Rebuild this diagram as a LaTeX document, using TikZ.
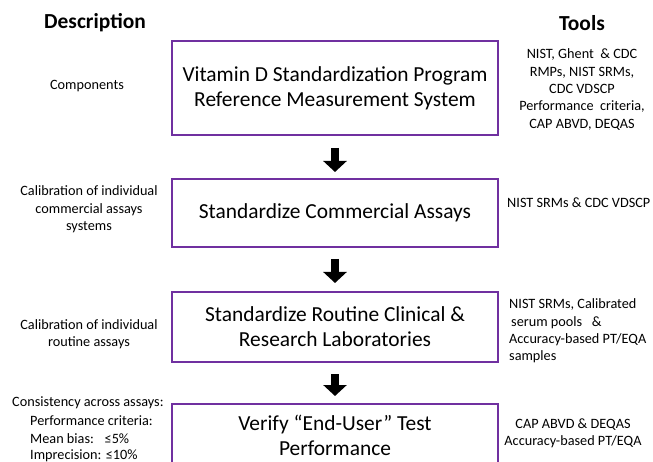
\documentclass[tikz,border=0pt]{standalone}
\usepackage{fontspec}
\setmainfont{Carlito}
\usetikzlibrary{arrows.meta}
\definecolor{boxpurple}{HTML}{7030A0}
\begin{document}
\begin{tikzpicture}[x=1bp,y=-1bp,
  stage/.style={draw=boxpurple, line width=2bp, minimum width=326bp, align=center,
    font=\fontsize{21.5}{25}\selectfont, inner sep=0pt},
  side/.style={font=\fontsize{14.3}{17.5}\selectfont, inner sep=0pt},
  head/.style={font=\fontsize{21.5}{25}\selectfont\bfseries, inner sep=0pt},
  flow/.style={line width=8bp, -{Triangle[width=23bp,length=11bp]}}]
\clip (0,0) rectangle (653,462);
\fill[white] (0,0) rectangle (653,462);

% headers
\node[head] (hdesc) at (95,23) {Description};
\node[head] (htools) at (582,23) {Tools};

% stages
\node[stage, minimum height=94bp] (b1) at (335,88) {Vitamin D Standardization Program\\Reference Measurement System};
\node[stage, minimum height=68bp] (b2) at (335,213) {Standardize Commercial Assays};
\node[stage, minimum height=70bp] (b3) at (335,327) {Standardize Routine Clinical \&\\Research Laboratories};
\node[stage, minimum height=70bp] (b4) at (335,439) {};
\node[font=\fontsize{21.5}{25}\selectfont, align=center, inner sep=0pt] (b4t) at (335,435) {Verify “End-User” Test\\Performance};

% arrows
\draw[flow] ([yshift=-12bp]b1.south) -- ([yshift=6bp]b2.north);
\draw[flow] ([yshift=-11bp]b2.south) -- ([yshift=8bp]b3.north);
\draw[flow] ([yshift=-11bp]b3.south) -- ([yshift=7bp]b4.north);

% descriptions
\node[side] (d1) at (87,86) {Components};
\node[side, align=center] (d2) at (89,209.5) {Calibration of individual\\commercial assays\\systems};
\node[side, align=center] (d3) at (89,334) {Calibration of individual\\routine assays};
\node[side, anchor=base west] (d4a) at (12,406) {Consistency across assays:};
\node[side, anchor=base west] (d4b) at (30,425) {Performance criteria:};
\node[side, anchor=base west] (d4c) at (30,443) {\rlap{Mean bias:}\phantom{Imprecision:}\ ≤5\%};
\node[side, anchor=base west] (d4d) at (30,459) {Imprecision: ≤10\%};

% tools
\node[side, align=center] (t1) at (582,89.5) {NIST, Ghent \ \& CDC\\RMPs, NIST SRMs,\\CDC VDSCP\\Performance \ criteria,\\CAP ABVD, DEQAS};
\node[side, anchor=west] (t2) at (507,203) {NIST SRMs \& CDC VDSCP};
\node[side, align=left, anchor=west] (t3) at (509,331) {NIST SRMs, Calibrated\\\hspace{2bp}serum pools \ \ \&\\Accuracy-based PT/EQA\\samples};
\node[side, align=center] (t4) at (573,433) {CAP ABVD \& DEQAS\\Accuracy-based PT/EQA};
\end{tikzpicture}
\end{document}
